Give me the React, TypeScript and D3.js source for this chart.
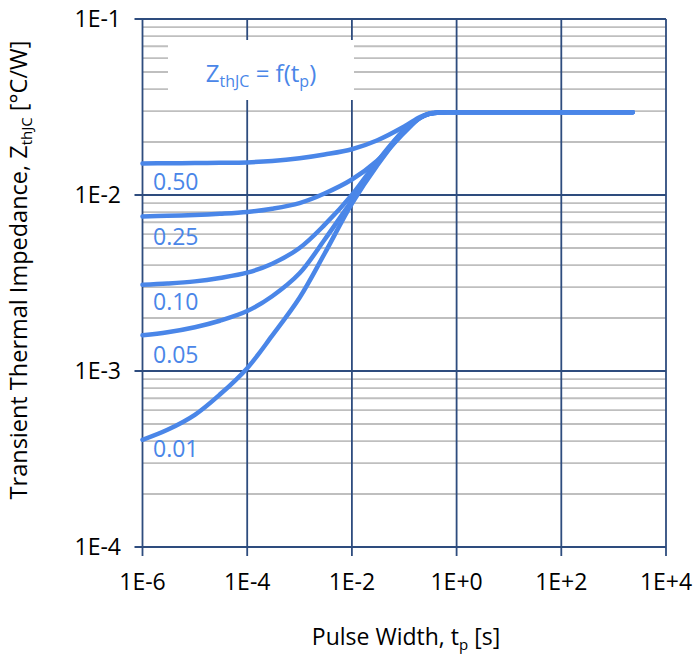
import React from "react";
import * as d3 from "d3";

const pulseWidths = [1e-6, 3e-6, 1e-5, 3e-5, 1e-4, 3e-4, 1e-3, 3e-3, 1e-2, 3e-2, 0.1, 0.2, 0.3, 0.5, 1, 10, 100, 1000, 2300];

const dutyLabels = ["0.50", "0.25", "0.10", "0.05", "0.01"];

const zth050 = [0.01511, 0.01514, 0.01518, 0.01523, 0.01532, 0.01560, 0.01618, 0.01700, 0.01820, 0.02040, 0.02450, 0.02777, 0.02908, 0.02946, 0.0295, 0.0295, 0.0295, 0.0295, 0.0295];
const zth025 = [0.00756, 0.00762, 0.00770, 0.00782, 0.00801, 0.00836, 0.0090, 0.01020, 0.01225, 0.01560, 0.02260, 0.02741, 0.02888, 0.02946, 0.0295, 0.0295, 0.0295, 0.0295, 0.0295];
const zth010 = [0.003087, 0.00314, 0.00323, 0.00338, 0.00362, 0.00407, 0.00500, 0.00676, 0.01001, 0.01542, 0.02342, 0.02741, 0.02888, 0.02946, 0.0295, 0.0295, 0.0295, 0.0295, 0.0295];
const zth005 = [0.001595, 0.001660, 0.001773, 0.00193, 0.00219, 0.00266, 0.00359, 0.00557, 0.00930, 0.01490, 0.02342, 0.02741, 0.02888, 0.02946, 0.0295, 0.0295, 0.0295, 0.0295, 0.0295];
const zth001 = [0.0004067, 0.0004636, 0.0005639, 0.0007348, 0.001038, 0.001589, 0.002607, 0.004636, 0.008937, 0.01463, 0.02312, 0.02741, 0.02888, 0.02946, 0.0295, 0.0295, 0.0295, 0.0295, 0.0295];

const series = [zth050, zth025, zth010, zth005, zth001];
const labelBaselineOffsets = [27, 29, 25, 28, 17];

const xTicks = [1e-6, 1e-4, 1e-2, 1, 1e2, 1e4];
const xTickLabels = ["1E-6", "1E-4", "1E-2", "1E+0", "1E+2", "1E+4"];
const yTicks = [1e-4, 1e-3, 1e-2, 1e-1];
const yTickLabels = ["1E-4", "1E-3", "1E-2", "1E-1"];
const yMinorMultipliers = [2, 3, 4, 5, 6, 7, 8, 9];

const FONT = "'Open Sans', sans-serif";
const BLUE = "#4A86E8";
const GRID_DARK = "#2E4C7E";
const GRID_MINOR = "#BFBFBF";

export default function App() {
  const left = 142.5, right = 666, top = 19, bottom = 547;
  const x = d3.scaleLog().domain([1e-6, 1e4]).range([left, right]);
  const y = d3.scaleLog().domain([1e-4, 1e-1]).range([bottom, top]);

  const minorY: number[] = [];
  for (const dec of [1e-4, 1e-3, 1e-2]) {
    for (const m of yMinorMultipliers) minorY.push(dec * m);
  }

  const line = d3
    .line<[number, number]>()
    .x((d) => x(d[0]))
    .y((d) => y(d[1]))
    .curve(d3.curveCatmullRom.alpha(0.5));

  const boxX0 = 168, boxX1 = 354, boxY0 = 40, boxY1 = 100;

  return (
    <svg
      width={693}
      height={656}
      style={{ position: "absolute", left: 0, top: 0, background: "#fff" }}
      fontFamily={FONT}
    >
      <rect x={0} y={0} width={693} height={656} fill="#fff" />
      {minorY.map((v, i) => (
        <line key={"mn" + i} x1={left} x2={right} y1={y(v)} y2={y(v)} stroke={GRID_MINOR} strokeWidth={1.8} />
      ))}
      {yTicks.map((v, i) => (
        <g key={"yt" + i}>
          <line x1={left - 8} x2={right} y1={y(v)} y2={y(v)} stroke={GRID_DARK} strokeWidth={1.8} />
          <text x={121} y={y(v)} dy="0.35em" textAnchor="end" fontSize={23} fill="#000">
            {yTickLabels[i]}
          </text>
        </g>
      ))}
      {xTicks.map((v, i) => (
        <g key={"xt" + i}>
          <line x1={x(v)} x2={x(v)} y1={top} y2={bottom + 9} stroke={GRID_DARK} strokeWidth={1.8} />
          <text x={x(v)} y={590} textAnchor="middle" fontSize={23} fill="#000">
            {xTickLabels[i]}
          </text>
        </g>
      ))}
      <rect x={boxX0} y={boxY0} width={boxX1 - boxX0} height={boxY1 - boxY0} fill="#fff" />
      <text x={(boxX0 + boxX1) / 2} y={82} textAnchor="middle" fontSize={24} fill={BLUE}>
        Z<tspan fontSize={16} dy={5}>thJC</tspan>
        <tspan dy={-5}> = f(t</tspan>
        <tspan fontSize={16} dy={5}>p</tspan>
        <tspan dy={-5}>)</tspan>
      </text>
      {series.map((s, i) => (
        <path
          key={"c" + i}
          d={line(pulseWidths.map((t, j) => [t, s[j]] as [number, number])) || ""}
          fill="none"
          stroke={BLUE}
          strokeWidth={4.5}
          strokeLinecap="round"
          strokeLinejoin="round"
        />
      ))}
      {series.map((s, i) => (
        <text key={"l" + i} x={153} y={y(s[0]) + labelBaselineOffsets[i]} fontSize={23} fill={BLUE}>
          {dutyLabels[i]}
        </text>
      ))}
      <text x={406} y={645} textAnchor="middle" fontSize={23} fill="#000">
        Pulse Width, t<tspan fontSize={15} dy={5}>p</tspan>
        <tspan dy={-5}> [s]</tspan>
      </text>
      <text
        transform={`translate(27,270) rotate(-90)`}
        textAnchor="middle"
        fontSize={23.5}
        fill="#000"
      >
        Transient Thermal Impedance, Z<tspan fontSize={15} dy={5}>thJC</tspan>
        <tspan dy={-5}> [°C/W]</tspan>
      </text>
    </svg>
  );
}
